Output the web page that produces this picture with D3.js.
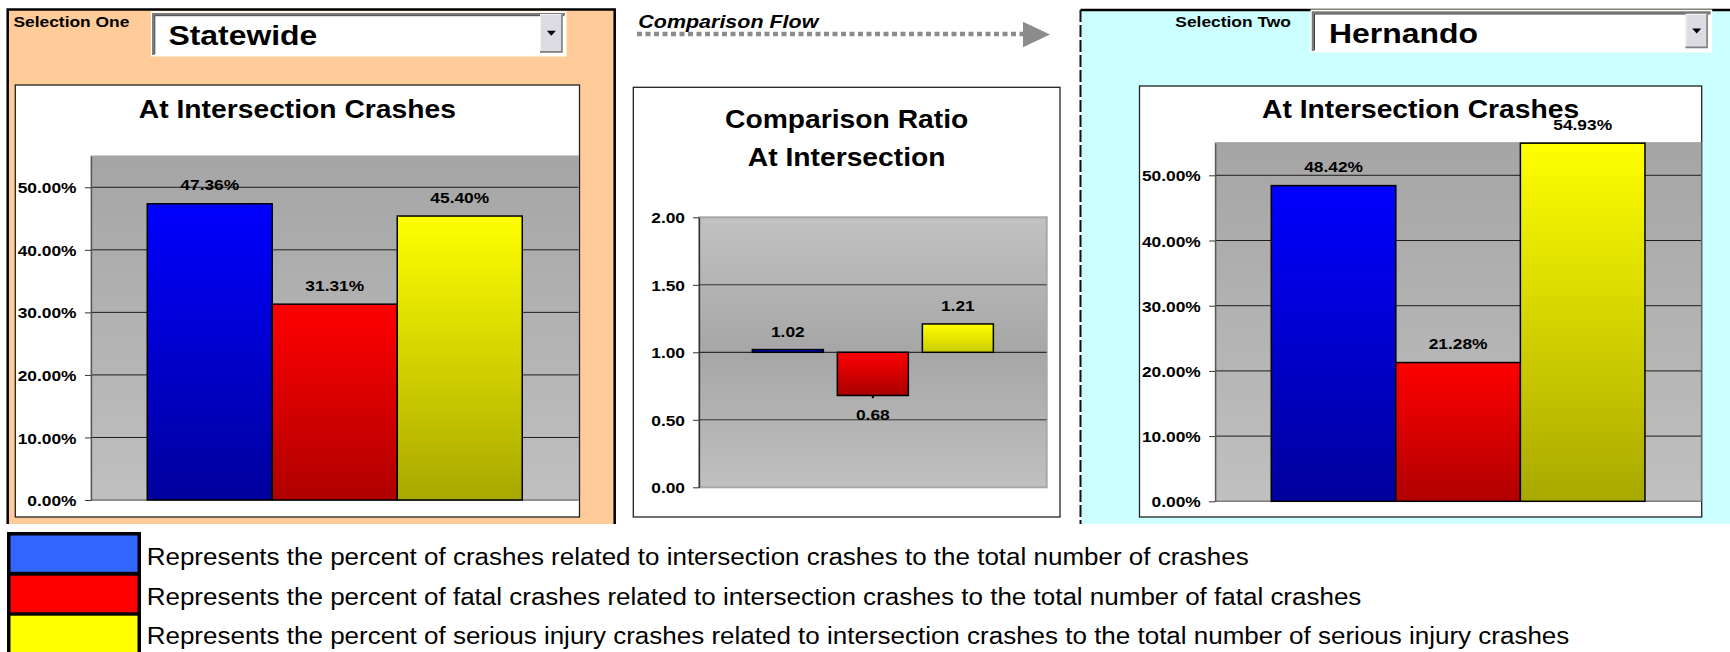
<!DOCTYPE html>
<html><head><meta charset="utf-8">
<script src="https://cdn.jsdelivr.net/npm/d3@7"></script>
<style>
html,body{margin:0;padding:0;background:#fff;}
svg{display:block;}
text{font-family:'Liberation Sans',Arial,Helvetica,sans-serif;}
</style></head><body>
<svg id="chart" width="1730" height="652"></svg>
<script>
// ---------- DATA ----------
const categories = ["Intersection crashes", "Fatal intersection crashes", "Serious injury intersection crashes"];
const selectionOneName = "Statewide";
const selectionTwoName = "Hernando";
const selectionOneValues = [0.4736, 0.3131, 0.4540];
const selectionTwoValues = [0.4842, 0.2128, 0.5493];
const ratioValues = [1.02, 0.68, 1.21];
const ratioBase = 1.0;
const percentTicks = [0, 0.1, 0.2, 0.3, 0.4, 0.5];
const ratioTicks = [0, 0.5, 1.0, 1.5, 2.0];
const percentDomain = [0, 0.55];
const ratioDomain = [0, 2.0];
const chartTitle = "At Intersection Crashes";
const ratioTitle = ["Comparison Ratio", "At Intersection"];
const legendLabels = [
  "Represents the percent of crashes related to intersection crashes to the total number of crashes",
  "Represents the percent of fatal crashes related to intersection crashes to the total number of fatal crashes",
  "Represents the percent of serious injury crashes related to intersection crashes to the total number of serious injury crashes"
];

// ---------- STYLE ----------
const barTop = ["#0000ff", "#ff0000", "#ffff00"];
const barBottom = ["#00009c", "#b00000", "#a8a800"];
const ratioBottom = ["#000090", "#a80000", "#cccc00"];
const legendColors = ["#3366ff", "#ff0000", "#ffff00"];
const TS = 1.12; // horizontal text stretch of the original

const svg = d3.select("#chart");
const defs = svg.append("defs");
function vGrad(id, stops) {
  const g = defs.append("linearGradient").attr("id", id)
    .attr("x1", 0).attr("y1", 0).attr("x2", 0).attr("y2", 1);
  stops.forEach(s => g.append("stop").attr("offset", s[0]).attr("stop-color", s[1]));
}
categories.forEach((c, i) => {
  vGrad("gp" + i, [[0, barTop[i]], [1, barBottom[i]]]);
  vGrad("gr" + i, [[0, barTop[i]], [1, ratioBottom[i]]]);
});
vGrad("plotPct", [[0, "#a5a5a5"], [1, "#c0c0c0"]]);
vGrad("plotRatio", [[0, "#c2c2c2"], [0.5, "#a6a6a6"], [1, "#c0c0c0"]]);

function txt(parent, x, y, s, o = {}) {
  return parent.append("text")
    .attr("transform", `translate(${x},${y}) scale(${o.sx || 1},1)`)
    .attr("text-anchor", o.anchor || "start")
    .attr("font-size", o.size || 16)
    .attr("font-weight", o.weight || "bold")
    .attr("font-style", o.style || "normal")
    .attr("fill", o.fill || "#000")
    .text(s);
}

// ---------- PANELS ----------
svg.append("rect").attr("x", 7.7).attr("y", 9.5).attr("width", 607).attr("height", 514.5).attr("fill", "#ffcc99");
svg.append("path").attr("d", "M7.7,524V9.5H614.7V524").attr("fill", "none").attr("stroke", "#000").attr("stroke-width", 2.5);
svg.append("rect").attr("x", 1080.5).attr("y", 10).attr("width", 650).attr("height", 514).attr("fill", "#ccffff");
svg.append("line").attr("x1", 1080.5).attr("x2", 1730).attr("y1", 10).attr("y2", 10).attr("stroke", "#000").attr("stroke-width", 2.5);
svg.append("line").attr("x1", 1080.5).attr("x2", 1080.5).attr("y1", 10).attr("y2", 524)
  .attr("stroke", "#111").attr("stroke-width", 2).attr("stroke-dasharray", "12,3");

// ---------- DROPDOWNS ----------
function dropdown(x, y, w, h, label, labelX, base, bx, by, bw, bh) {
  const g = svg.append("g");
  g.append("rect").attr("x", x - 1.5).attr("y", y - 1.5).attr("width", w + 3).attr("height", h + 3).attr("fill", "#fffff6");
  g.append("rect").attr("x", x).attr("y", y).attr("width", w).attr("height", h).attr("fill", "#fff");
  g.append("path").attr("d", `M${x + 1},${y + h}V${y + 1.5}H${x + w}`).attr("fill", "none").attr("stroke", "#7a7a7a").attr("stroke-width", 2.5);
  g.append("path").attr("d", `M${x + 2.5},${y + h - 1}V${y + 3}H${x + w - 1}`).attr("fill", "none").attr("stroke", "#404040").attr("stroke-width", 1);
  g.append("rect").attr("x", bx).attr("y", by).attr("width", bw).attr("height", bh).attr("fill", "#dcdce2");
  g.append("path").attr("d", `M${bx + 0.5},${by + bh}V${by + 0.5}H${bx + bw}`).attr("fill", "none").attr("stroke", "#f4f4f4").attr("stroke-width", 1);
  g.append("path").attr("d", `M${bx},${by + bh - 0.8}H${bx + bw - 0.8}V${by}`).attr("fill", "none").attr("stroke", "#808080").attr("stroke-width", 1.6);
  const cx = bx + bw / 2, cy = by + bh / 2;
  g.append("path").attr("d", `M${cx - 4.5},${cy - 2.5}H${cx + 4.5}L${cx},${cy + 2.5}Z`).attr("fill", "#000");
  txt(g, labelX, base, label, { size: 28, sx: 1.14 });
}
txt(svg, 13.4, 27, "Selection One", { size: 15, sx: 1.16 });
dropdown(152.3, 12.7, 412.7, 42.3, selectionOneName, 168.4, 45, 540, 14, 22.7, 38.7);
txt(svg, 1175.3, 26.7, "Selection Two", { size: 15, sx: 1.16 });
dropdown(1312, 11, 398.7, 40, selectionTwoName, 1329, 43.3, 1685.5, 13.8, 22.4, 34.4);

// ---------- COMPARISON FLOW ARROW ----------
txt(svg, 638.3, 28.3, "Comparison Flow", { size: 19, sx: 1.13, style: "italic" });
svg.append("line").attr("x1", 637).attr("x2", 1023).attr("y1", 34).attr("y2", 34)
  .attr("stroke", "#8c8c8c").attr("stroke-width", 4.5).attr("stroke-dasharray", "5,3.5");
svg.append("path").attr("d", "M1023,21.7L1050,34.5L1023,47.3Z").attr("fill", "#8c8c8c");

// ---------- PERCENT CHARTS ----------
function pctChart(o) {
  const g = svg.append("g");
  g.append("rect").attr("x", o.bx).attr("y", o.by).attr("width", o.bw).attr("height", o.bh)
    .attr("fill", "#fff").attr("stroke", "#222").attr("stroke-width", 1.3);
  txt(g, o.bx + o.bw / 2, 118.3, chartTitle, { size: 25.5, sx: 1.108, anchor: "middle" });
  const y = d3.scaleLinear().domain(percentDomain).range([o.y0, o.y1]);
  const x0 = d3.scaleBand().domain(["group"]).range([o.pl, o.pr]).paddingInner(0).paddingOuter(0.15);
  const x1 = d3.scaleBand().domain(categories).range([0, x0.bandwidth()]).padding(0);
  g.append("rect").attr("x", o.pl).attr("y", y(percentDomain[1])).attr("width", o.pr - o.pl)
    .attr("height", y(0) - y(percentDomain[1])).attr("fill", "url(#plotPct)").attr("stroke", "#a0a0a0").attr("stroke-width", 1);
  g.selectAll(".grid").data(percentTicks.filter(d => d > 0)).join("line")
    .attr("x1", o.pl).attr("x2", o.pr).attr("y1", d => y(d)).attr("y2", d => y(d))
    .attr("stroke", "#1e1e1e").attr("stroke-width", 1);
  g.append("line").attr("x1", o.pl).attr("x2", o.pr).attr("y1", y(0)).attr("y2", y(0)).attr("stroke", "#808080").attr("stroke-width", 1.5);
  const ax = g.append("g").attr("transform", `translate(${o.pl},0)`)
    .call(d3.axisLeft(y).tickValues(percentTicks).tickFormat(d3.format(".2%")).tickSize(6).tickSizeOuter(0));
  ax.select(".domain").attr("stroke", "#555").attr("stroke-width", 1.3);
  ax.selectAll(".tick line").attr("stroke", "#333");
  ax.selectAll(".tick text").attr("x", -14.5 / TS).attr("dy", "0.36em")
    .attr("transform", `scale(${TS},1)`).attr("font-size", 15.5).attr("font-weight", "bold")
    .attr("fill", "#000").attr("font-family", "'Liberation Sans',Arial,sans-serif");
  const bx0 = x0("group");
  g.selectAll(".bar").data(o.values).join("rect")
    .attr("x", (d, i) => bx0 + x1(categories[i])).attr("width", x1.bandwidth())
    .attr("y", d => y(d)).attr("height", d => y(0) - y(d))
    .attr("fill", (d, i) => `url(#gp${i})`).attr("stroke", "#000").attr("stroke-width", 1.5);
  o.values.forEach((d, i) => {
    txt(g, bx0 + x1(categories[i]) + x1.bandwidth() / 2, y(d) - 13.5, d3.format(".2%")(d),
      { size: 15.5, sx: TS, anchor: "middle" });
  });
}
pctChart({ bx: 15.3, by: 85, bw: 564.2, bh: 432, pl: 91, pr: 578.5, y0: 500, y1: 156, values: selectionOneValues });
pctChart({ bx: 1139.5, by: 86, bw: 562.2, bh: 431, pl: 1215.2, pr: 1701, y0: 501.3, y1: 142.7, values: selectionTwoValues });

// ---------- RATIO CHART ----------
(function () {
  const o = { bx: 633.3, by: 87.3, bw: 426.7, bh: 429.7, pl: 699, pr: 1046.7, y0: 487.3, y1: 217.3 };
  const g = svg.append("g");
  g.append("rect").attr("x", o.bx).attr("y", o.by).attr("width", o.bw).attr("height", o.bh)
    .attr("fill", "#fff").attr("stroke", "#222").attr("stroke-width", 1.3);
  txt(g, o.bx + o.bw / 2, 128.3, ratioTitle[0], { size: 25.5, sx: 1.108, anchor: "middle" });
  txt(g, o.bx + o.bw / 2, 165.7, ratioTitle[1], { size: 25.5, sx: 1.108, anchor: "middle" });
  const y = d3.scaleLinear().domain(ratioDomain).range([o.y0, o.y1]);
  const x0 = d3.scaleBand().domain(["group"]).range([o.pl, o.pr]).paddingInner(0).paddingOuter(0.2213);
  const x1 = d3.scaleBand().domain(categories).range([0, x0.bandwidth()]).paddingInner(0.1647).paddingOuter(0);
  g.append("rect").attr("x", o.pl).attr("y", o.y1).attr("width", o.pr - o.pl).attr("height", o.y0 - o.y1)
    .attr("fill", "url(#plotRatio)").attr("stroke", "#a8a8a8").attr("stroke-width", 2);
  g.selectAll(".grid").data(ratioTicks.filter(d => d > 0 && d < ratioDomain[1])).join("line")
    .attr("x1", o.pl).attr("x2", o.pr).attr("y1", d => y(d)).attr("y2", d => y(d))
    .attr("stroke", d => d === ratioBase ? "#111" : "#333").attr("stroke-width", 1);
  const ax = g.append("g").attr("transform", `translate(${o.pl},0)`)
    .call(d3.axisLeft(y).tickValues(ratioTicks).tickFormat(d3.format(".2f")).tickSize(6).tickSizeOuter(0));
  ax.select(".domain").attr("stroke", "#333").attr("stroke-width", 1.3);
  ax.selectAll(".tick line").attr("stroke", "#333");
  ax.selectAll(".tick text").attr("x", -14 / TS).attr("dy", "0.36em")
    .attr("transform", `scale(${TS},1)`).attr("font-size", 15.5).attr("font-weight", "bold")
    .attr("fill", "#000").attr("font-family", "'Liberation Sans',Arial,sans-serif");
  const bx0 = x0("group");
  g.selectAll(".bar").data(ratioValues).join("rect")
    .attr("x", (d, i) => bx0 + x1(categories[i])).attr("width", x1.bandwidth())
    .attr("y", d => Math.min(y(d), y(ratioBase))).attr("height", d => Math.abs(y(d) - y(ratioBase)))
    .attr("fill", (d, i) => `url(#gr${i})`).attr("stroke", "#000").attr("stroke-width", 1.5);
  ratioValues.forEach((d, i) => {
    const cx = bx0 + x1(categories[i]) + x1.bandwidth() / 2;
    const ly = d >= ratioBase ? y(d) - 13 : y(d) + 24.5;
    txt(g, cx, ly, d3.format(".2f")(d), { size: 15.5, sx: TS, anchor: "middle" });
    if (d < ratioBase) g.append("circle").attr("cx", cx).attr("cy", y(d) + 1.5).attr("r", 1.2).attr("fill", "#000");
  });
})();

// ---------- LEGEND ----------
svg.append("rect").attr("x", 7).attr("y", 532).attr("width", 134).attr("height", 122).attr("fill", "#000");
const rowTops = [535.5, 575.7, 615.7], rowBottoms = [571.8, 612.3, 654];
legendColors.forEach((c, i) => {
  svg.append("rect").attr("x", 10.5).attr("y", rowTops[i]).attr("width", 127).attr("height", rowBottoms[i] - rowTops[i]).attr("fill", c);
});
const legBase = [565, 605, 644.3];
const legTexts = legendLabels.map((s, i) => txt(svg, 146.7, legBase[i], s, { size: 23, weight: "normal" }));
const natural = legTexts[0].node().getComputedTextLength();
const lsx = 1102.6 / natural;
legTexts.forEach((t, i) => t.attr("transform", `translate(146.7,${legBase[i]}) scale(${lsx},1)`));
</script>
</body></html>
